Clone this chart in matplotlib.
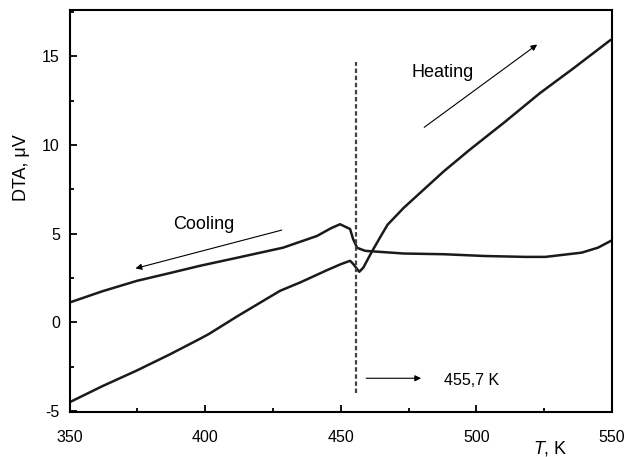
import matplotlib
matplotlib.use("Agg")
import matplotlib.pyplot as plt
from matplotlib.ticker import MultipleLocator

plt.rcParams['font.family'] = ['Liberation Sans', 'DejaVu Sans']
plt.rcParams['axes.unicode_minus'] = False
plt.rcParams['mathtext.fontset'] = 'custom'
plt.rcParams['mathtext.it'] = 'Liberation Sans:italic'
plt.rcParams['mathtext.rm'] = 'Liberation Sans'

# heating run (lower curve)
heat_T = [350, 362, 374.8, 387, 398, 401.4, 412, 427.6, 435, 445, 450, 453.4, 454.5, 456.8,
          458.3, 461.3, 464.5, 467.2, 473.2, 480.6, 488, 497.6, 510.5, 523.4, 535.6, 549.3, 550]
heat_dta = [-4.5, -3.6, -2.71, -1.8, -0.93, -0.65, 0.36, 1.78, 2.25, 2.95, 3.28, 3.47, 3.3, 2.85,
            3.09, 3.95, 4.8, 5.5, 6.46, 7.49, 8.52, 9.74, 11.3, 12.92, 14.3, 15.9, 15.95]

# cooling run (upper curve)
cool_T = [350, 362, 374.8, 387, 398.1, 412, 428.7, 441.2, 446.3, 449.7, 453.4, 454.5,
          456, 459, 462.8, 473.2, 488, 503, 518, 525.4, 538.8, 544.8, 550]
cool_dta = [1.12, 1.75, 2.34, 2.78, 3.19, 3.65, 4.21, 4.87, 5.3, 5.53, 5.26, 4.7,
            4.2, 4.03, 3.99, 3.88, 3.84, 3.74, 3.69, 3.69, 3.93, 4.21, 4.63]

t_transition = 455.7

fig, ax = plt.subplots(figsize=(6.33, 4.57), dpi=100)
fig.subplots_adjust(left=0.110, right=0.967, bottom=0.0985, top=0.978)

ax.plot(heat_T, heat_dta, color='#1a1a1a', lw=1.8)
ax.plot(cool_T, cool_dta, color='#1a1a1a', lw=1.8)

# transition line
ax.plot([t_transition, t_transition], [-4.0, 14.7], color='#444444', lw=1.6,
        linestyle=(0, (2, 1.2)))

arrow = dict(arrowstyle='-|>', color='black', lw=0.8, mutation_scale=9)
ax.annotate('', xy=(523.2, 15.75), xytext=(479.9, 10.9), arrowprops=arrow)
ax.annotate('', xy=(373.3, 3.0), xytext=(429.2, 5.24), arrowprops=arrow)
ax.annotate('', xy=(480.6, -3.15), xytext=(458.3, -3.15), arrowprops=arrow)
ax.text(487.4, 14.1, 'Heating', fontsize=13, ha='center', va='center')
ax.text(399.4, 5.49, 'Cooling', fontsize=13, ha='center', va='center')
ax.text(488.1, -3.25, '455,7 K', fontsize=11.5, ha='left', va='center')

ax.set_xlim(350, 550)
ax.set_ylim(-5.05, 17.6)
ax.xaxis.set_major_locator(MultipleLocator(50))
ax.xaxis.set_minor_locator(MultipleLocator(25))
ax.yaxis.set_major_locator(MultipleLocator(5))
ax.yaxis.set_minor_locator(MultipleLocator(2.5))
ax.tick_params(which='both', direction='in', labelsize=11.5, width=1.3)
ax.tick_params(which='major', length=5)
ax.tick_params(which='minor', length=3)
ax.tick_params(axis='x', pad=13)
ax.tick_params(axis='y', pad=7)
for s in ax.spines.values():
    s.set_linewidth(1.5)

ax.set_ylabel('DTA, \u03bcV', fontsize=13)
ax.yaxis.set_label_coords(-0.073, 0.607)
ax.set_xlabel('$\\it{T}$, K', fontsize=13)
ax.xaxis.set_label_coords(0.886, -0.066)

fig.savefig('out.png', dpi=100)
